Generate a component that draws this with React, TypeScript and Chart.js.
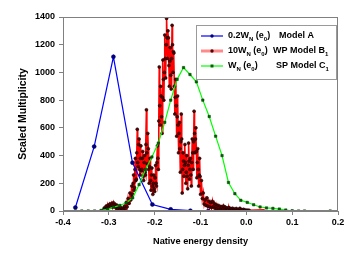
import React, { useEffect, useRef } from "react";
import { Chart, registerables } from "chart.js";

Chart.register(...registerables);

const xTickValues = [-0.4, -0.3, -0.2, -0.1, 0.0, 0.1, 0.2];
const yTickValues = [0, 200, 400, 600, 800, 1000, 1200, 1400];

const blueX = [-0.373, -0.332, -0.29, -0.2485, -0.205, -0.165, -0.122, -0.083];
const blueY = [25, 465, 1113, 349, 47, 12, 2, 0];

const greenX = [
  -0.373, -0.359, -0.345, -0.331, -0.317, -0.303, -0.29, -0.276, -0.262, -0.248,
  -0.234, -0.22, -0.206, -0.192, -0.178, -0.165, -0.151, -0.137, -0.123, -0.109,
  -0.095, -0.081, -0.067, -0.053, -0.039, -0.025, -0.012, 0.002, 0.016, 0.03,
  0.044, 0.058, 0.072, 0.086, 0.1, 0.114, 0.127, 0.183,
];
const greenY = [
  0, 0, 0, 0, 4, 12, 28, 40, 60, 95,
  190, 300, 390, 490, 640, 800, 950, 1035, 985, 932,
  800, 682, 540, 400, 206, 125, 77, 62, 45, 29,
  22, 19, 14, 7, 2, 0, 0, 0,
];

const redX = [
  -0.312, -0.31, -0.308, -0.306, -0.304, -0.302, -0.3, -0.298, -0.296, -0.294,
  -0.292, -0.29, -0.288, -0.286, -0.284, -0.282, -0.28, -0.278, -0.276, -0.274,
  -0.272, -0.27, -0.268, -0.266, -0.264, -0.262, -0.26, -0.258, -0.256, -0.254,
  -0.252,
  -0.25, -0.249, -0.248, -0.247, -0.246, -0.245, -0.244, -0.243, -0.242, -0.241,
  -0.24, -0.239, -0.238, -0.237, -0.236, -0.235, -0.234, -0.233, -0.232, -0.231,
  -0.23, -0.229, -0.228, -0.227, -0.226, -0.225, -0.224, -0.223, -0.222, -0.221,
  -0.22, -0.219, -0.218, -0.217, -0.216, -0.215, -0.214, -0.213, -0.212, -0.211,
  -0.21, -0.209, -0.208, -0.207, -0.206, -0.205, -0.204, -0.203, -0.202, -0.201,
  -0.2, -0.199, -0.198, -0.197, -0.196, -0.195, -0.194, -0.193, -0.192, -0.191,
  -0.19, -0.189, -0.188, -0.187, -0.186, -0.185, -0.184, -0.183, -0.182, -0.181,
  -0.18, -0.179, -0.178, -0.177, -0.176, -0.175, -0.174, -0.173, -0.172, -0.171,
  -0.17, -0.169, -0.168, -0.167, -0.166, -0.165, -0.164, -0.163, -0.162, -0.161,
  -0.16, -0.159, -0.158, -0.157, -0.156, -0.155, -0.154, -0.153, -0.152, -0.151,
  -0.15, -0.149, -0.148, -0.147, -0.146, -0.145, -0.144, -0.143, -0.142, -0.141,
  -0.14, -0.139, -0.138, -0.137, -0.136, -0.135, -0.134, -0.133, -0.132, -0.131,
  -0.13, -0.129, -0.128, -0.127, -0.126, -0.125, -0.124, -0.123, -0.122, -0.121,
  -0.12, -0.119, -0.118, -0.117, -0.116, -0.115, -0.114, -0.113, -0.112, -0.111,
  -0.11, -0.109, -0.108, -0.107, -0.106, -0.105, -0.104, -0.103, -0.102, -0.101,
  -0.1, -0.098, -0.096, -0.094,
  -0.092, -0.09, -0.088, -0.086, -0.084, -0.082, -0.08, -0.078, -0.076, -0.074,
  -0.072, -0.07, -0.068, -0.066, -0.064, -0.062, -0.06, -0.058, -0.056, -0.054,
  -0.052, -0.05, -0.048, -0.046, -0.044, -0.042, -0.04, -0.038, -0.036, -0.034,
  -0.032, -0.03, -0.028, -0.026, -0.024, -0.022, -0.02, -0.018, -0.016, -0.014,
  -0.012, -0.01, -0.008, -0.006, -0.004, -0.002, 0.0, 0.002, 0.004, 0.006,
  0.04,
];
const redY = [
  8, 22, 12, 35, 18, 42, 25, 50, 30, 55,
  28, 60, 35, 48, 20, 40, 15, 30, 10, 25,
  8, 20, 12, 35, 15, 60, 30, 90, 55, 130,
  80,
  180, 110, 120, 200, 260, 150, 170, 300, 380, 220,
  230, 420, 590, 350, 320, 480, 520, 300, 260, 380,
  470, 290, 300, 380, 430, 250, 220, 350, 400, 280,
  260, 480, 730, 420, 340, 560, 450, 300, 200, 320,
  380, 220, 150, 260, 310, 180, 120, 200, 260, 160,
  140, 240, 330, 200, 180, 350, 470, 380, 300, 650,
  1040, 760, 620, 900, 830, 680, 560, 820, 1090, 950,
  800, 1000, 1270, 1100, 960, 1200, 1390, 1250, 1100, 1300,
  1250, 1050, 900, 1080, 1180, 980, 880, 1100, 1340, 1200,
  1000, 1150, 1140, 900, 700, 820, 950, 760, 540, 680,
  830, 620, 420, 560, 640, 450, 280, 500, 700, 520,
  130, 300, 420, 360, 250, 330, 480, 350, 200, 280,
  400, 250, 160, 330, 490, 360, 230, 300, 380, 260,
  180, 350, 520, 420, 300, 500, 720, 560, 420, 520,
  600, 430, 240, 350, 450, 300, 180, 260, 380, 250,
  120, 220, 90, 130,
  50, 80, 40, 95, 35, 70, 30, 60, 25, 70,
  30, 55, 20, 45, 15, 40, 12, 35, 10, 30,
  8, 36, 12, 28, 6, 22, 10, 25, 5, 18,
  8, 20, 4, 15, 6, 18, 3, 12, 5, 19,
  4, 10, 2, 12, 3, 8, 2, 6, 4, 5,
  8,
];

const FONT = '"Liberation Sans", Arial, sans-serif';

const toPoints = (xs: number[], ys: number[]) => xs.map((x, i) => ({ x, y: ys[i] }));

const frameAndLegend = {
  id: "frameAndLegend",
  afterDatasetsDraw(chart: any) {
    const { ctx, chartArea } = chart;
    ctx.save();
    ctx.strokeStyle = "#808080";
    ctx.lineWidth = 1;
    ctx.strokeRect(
      Math.round(chartArea.left) + 0.5,
      Math.round(chartArea.top) + 0.5,
      Math.round(chartArea.right - chartArea.left) - 1,
      Math.round(chartArea.bottom - chartArea.top) - 1
    );
    const bx = 196.5, by = 25.5, bw = 140, bh = 54;
    ctx.fillStyle = "#ffffff";
    ctx.fillRect(bx, by, bw, bh);
    ctx.strokeStyle = "#9a9a9a";
    ctx.strokeRect(bx, by, bw, bh);

    const rows = [
      { y: 36, line: "#0000ff", lw: 1.2, marker: "#000080", shape: "circle",
        parts: [["0.2W", 0], ["N", 1], [" (e", 0], ["0", 1], [")", 0]],
        right: [["Model A", 0]], rx: 279 },
      { y: 51, line: "rgba(255,60,60,0.6)", lw: 3, marker: "#5a0000", shape: "circle",
        parts: [["10W", 0], ["N", 1], [" (e", 0], ["0", 1], [")", 0]],
        right: [["WP Model B", 0], ["1", 1]], rx: 273 },
      { y: 66, line: "#00ff00", lw: 1.2, marker: "#006400", shape: "rect",
        parts: [["W", 0], ["N", 1], [" (e", 0], ["0", 1], [")", 0]],
        right: [["SP Model C", 0], ["1", 1]], rx: 276 },
    ];
    const drawParts = (parts: any[], x: number, y: number) => {
      let cx = x;
      for (const [t, sub] of parts) {
        ctx.font = sub ? `bold 6px ${FONT}` : `bold 9px ${FONT}`;
        ctx.fillText(t, cx, sub ? y + 3 : y);
        cx += ctx.measureText(t).width;
      }
    };
    for (const r of rows) {
      ctx.strokeStyle = r.line;
      ctx.lineWidth = r.lw;
      ctx.beginPath();
      ctx.moveTo(201, r.y);
      ctx.lineTo(223, r.y);
      ctx.stroke();
      ctx.fillStyle = r.marker;
      if (r.shape === "rect") {
        ctx.fillRect(210.5, r.y - 1.5, 3, 3);
      } else {
        ctx.beginPath();
        ctx.arc(212, r.y, 1.7, 0, Math.PI * 2);
        ctx.fill();
      }
      ctx.fillStyle = "#000";
      ctx.textBaseline = "middle";
      ctx.textAlign = "left";
      drawParts(r.parts, 228, r.y);
      drawParts(r.right, r.rx, r.y);
    }
    ctx.restore();
  },
};

export default function App() {
  const ref = useRef<HTMLCanvasElement>(null);
  useEffect(() => {
    if (!ref.current) return;
    const chart = new Chart(ref.current, {
      type: "line",
      data: {
        datasets: [
          {
            label: "0.2W_N (e_0) Model A",
            data: toPoints(blueX, blueY),
            borderColor: "#0000ff",
            borderWidth: 1.2,
            pointBackgroundColor: "#000080",
            pointBorderColor: "#000060",
            pointBorderWidth: 0.5,
            pointRadius: 2,
            order: 2,
          },
          {
            label: "10W_N (e_0) WP Model B_1",
            data: toPoints(redX, redY),
            borderColor: "#ff0000",
            borderWidth: 1.6,
            pointBackgroundColor: "#5a0000",
            pointBorderColor: "#000000",
            pointBorderWidth: 0.5,
            pointRadius: redX.map((_, i) => (i === redX.length - 1 ? 0 : 1.5)),
            order: 3,
          },
          {
            label: "W_N (e_0) SP Model C_1",
            data: toPoints(greenX, greenY),
            borderColor: "#00ff00",
            borderWidth: 1.2,
            pointStyle: "rect",
            pointBackgroundColor: "#006400",
            pointBorderColor: "#003000",
            pointBorderWidth: 0.5,
            pointRadius: 1.7,
            order: 1,
          },
        ],
      },
      options: {
        responsive: false,
        animation: false,
        devicePixelRatio: 1,
        layout: { padding: { top: 17, right: 11, left: 0, bottom: 0 } },
        plugins: { legend: { display: false }, tooltip: { enabled: false } },
        elements: { line: { tension: 0 } },
        scales: {
          x: {
            type: "linear",
            min: -0.4,
            max: 0.2,
            afterBuildTicks: (s: any) => {
              s.ticks = xTickValues.map((v) => ({ value: v }));
            },
            afterFit: (s: any) => {
              s.height = 51;
            },
            ticks: {
              color: "#000",
              font: { family: FONT, size: 9, weight: "bold" },
              padding: 2,
              maxRotation: 0,
              autoSkip: false,
              callback: (v: any) => Number(v).toFixed(1),
            },
            grid: { drawOnChartArea: false, drawTicks: true, tickLength: 4, color: "#808080" },
            border: { display: true, color: "#808080" },
            title: {
              display: true,
              text: "Native energy density",
              color: "#000",
              font: { family: FONT, size: 9.2, weight: "bold" },
              padding: { top: 0, bottom: 14.8 },
            },
          },
          y: {
            type: "linear",
            min: 0,
            max: 1400,
            afterBuildTicks: (s: any) => {
              s.ticks = yTickValues.map((v) => ({ value: v }));
            },
            afterFit: (s: any) => {
              s.width = 63;
            },
            ticks: {
              color: "#000",
              font: { family: FONT, size: 9, weight: "bold" },
              padding: 4,
              autoSkip: false,
              callback: (v: any) => String(v),
            },
            grid: { drawOnChartArea: false, drawTicks: true, tickLength: 4, color: "#808080" },
            border: { display: true, color: "#808080" },
            title: {
              display: true,
              text: "Scaled Multiplicity",
              color: "#000",
              font: { family: FONT, size: 10.5, weight: "bold" },
              padding: { top: 16.4, bottom: 0 },
            },
          },
        },
      },
      plugins: [frameAndLegend],
    } as any);
    return () => chart.destroy();
  }, []);
  return (
    <div style={{ position: "fixed", left: 0, top: 0, width: 349, height: 262, background: "#fff" }}>
      <canvas ref={ref} width={349} height={262} style={{ display: "block" }} />
    </div>
  );
}
